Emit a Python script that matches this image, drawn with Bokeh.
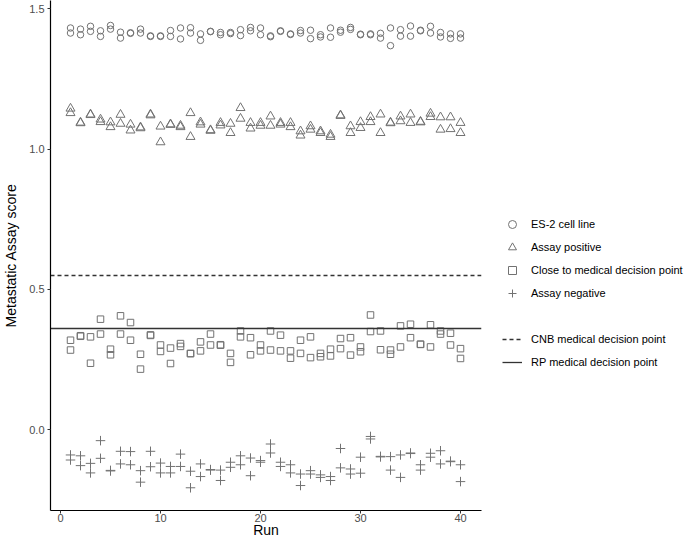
from bokeh.plotting import figure
from bokeh.models import (ColumnDataSource, Legend, LegendItem, Range1d,
                          FixedTicker, PrintfTickFormatter)
from bokeh.embed import file_html
from bokeh.resources import INLINE

# ---------------- data ----------------
runs = list(range(1, 41))

es2_a = [1.432, 1.428, 1.438, 1.422, 1.441, 1.417, 1.415, 1.428, 1.404, 1.404,
         1.423, 1.432, 1.433, 1.411, 1.420, 1.416, 1.416, 1.426, 1.434, 1.432,
         1.404, 1.422, 1.411, 1.423, 1.424, 1.408, 1.432, 1.424, 1.434, 1.410,
         1.411, 1.413, 1.432, 1.426, 1.439, 1.424, 1.438, 1.416, 1.411, 1.411]
es2_b = [1.414, 1.408, 1.420, 1.402, 1.428, 1.396, 1.413, 1.414, 1.402, 1.402,
         1.402, 1.393, 1.414, 1.388, 1.419, 1.408, 1.412, 1.405, 1.422, 1.408,
         1.401, 1.420, 1.409, 1.414, 1.394, 1.400, 1.399, 1.417, 1.427, 1.408,
         1.408, 1.396, 1.369, 1.403, 1.403, 1.422, 1.414, 1.400, 1.395, 1.396]

pos_a = [1.145, 1.095, 1.124, 1.106, 1.096, 1.123, 1.088, 1.078, 1.124, 1.081,
         1.089, 1.084, 1.129, 1.096, 1.068, 1.094, 1.091, 1.147, 1.094, 1.094,
         1.117, 1.094, 1.094, 1.064, 1.082, 1.064, 1.052, 1.121, 1.082, 1.097,
         1.115, 1.124, 1.095, 1.117, 1.124, 1.098, 1.127, 1.114, 1.114, 1.094]
pos_b = [1.129, 1.093, 1.122, 1.097, 1.079, 1.091, 1.067, 1.075, 1.121, 1.025,
         1.087, 1.079, 1.044, 1.088, 1.066, 1.085, 1.058, 1.109, 1.074, 1.084,
         1.084, 1.088, 1.079, 1.049, 1.070, 1.058, 1.044, 1.119, 1.058, 1.076,
         1.097, 1.058, 1.093, 1.100, 1.094, 1.096, 1.115, 1.070, 1.072, 1.058]

close_a = [0.319, 0.335, 0.331, 0.394, 0.287, 0.406, 0.382, 0.269, 0.338, 0.302,
           0.291, 0.307, 0.272, 0.313, 0.341, 0.303, 0.272, 0.352, 0.328, 0.302,
           0.352, 0.337, 0.281, 0.319, 0.331, 0.272, 0.287, 0.325, 0.328, 0.295,
           0.409, 0.352, 0.284, 0.370, 0.376, 0.305, 0.374, 0.352, 0.344, 0.289]
close_b = [0.284, 0.333, 0.237, 0.341, 0.267, 0.341, 0.319, 0.216, 0.336, 0.279,
           0.236, 0.297, 0.271, 0.281, 0.302, 0.301, 0.240, 0.331, 0.267, 0.281,
           0.284, 0.281, 0.255, 0.272, 0.257, 0.260, 0.263, 0.289, 0.266, 0.278,
           0.350, 0.285, 0.269, 0.295, 0.328, 0.304, 0.295, 0.341, 0.302, 0.254]

neg_a = [-0.090, -0.093, -0.120, -0.039, -0.145, -0.077, -0.078, -0.146, -0.077, -0.119,
         -0.131, -0.087, -0.148, -0.122, -0.142, -0.144, -0.116, -0.093, -0.101, -0.110,
         -0.051, -0.116, -0.125, -0.158, -0.146, -0.161, -0.167, -0.067, -0.140, -0.098,
         -0.024, -0.095, -0.096, -0.090, -0.083, -0.125, -0.084, -0.075, -0.112, -0.125]
neg_b = [-0.108, -0.128, -0.154, -0.102, -0.147, -0.122, -0.125, -0.187, -0.132, -0.154,
         -0.154, -0.131, -0.207, -0.167, -0.144, -0.181, -0.134, -0.125, -0.164, -0.116,
         -0.083, -0.131, -0.154, -0.199, -0.158, -0.170, -0.181, -0.136, -0.158, -0.155,
         -0.033, -0.097, -0.144, -0.170, -0.085, -0.144, -0.098, -0.122, -0.114, -0.185]

series_labels = ["ES-2 cell line", "Assay positive",
                 "Close to medical decision point", "Assay negative"]
cnb_point = 0.55
rp_point = 0.36
line_labels = ["CNB medical decision point", "RP medical decision point"]

x_ticks = [0, 10, 20, 30, 40]
y_ticks = [0.0, 0.5, 1.0, 1.5]

# ---------------- figure ----------------
FONT = "Liberation Sans"
MARK = "#727272"

p = figure(frame_width=431, frame_height=510, output_backend="svg",
           toolbar_location=None,
           x_range=Range1d(-1.0, 42.1), y_range=Range1d(-0.288, 1.53),
           min_border_left=47, min_border_right=0, min_border_top=0,
           min_border_bottom=24)

p.grid.visible = False
p.outline_line_color = None

for ax in (p.xaxis[0], p.yaxis[0]):
    ax.axis_line_color = "black"
    ax.axis_line_width = 1.2
    ax.major_tick_line_color = "#333333"
    ax.major_tick_out = 3
    ax.major_tick_in = 0
    ax.minor_tick_line_color = None
    ax.major_label_text_font = FONT
    ax.major_label_text_font_size = "11px"
    ax.major_label_text_color = "#4D4D4D"
    ax.axis_label_text_font = FONT
    ax.axis_label_text_font_size = "14px"
    ax.axis_label_text_font_style = "normal"
    ax.axis_label_text_color = "black"

p.xaxis.ticker = FixedTicker(ticks=x_ticks)
p.yaxis.ticker = FixedTicker(ticks=y_ticks)
p.yaxis.formatter = PrintfTickFormatter(format="%.1f")
p.xaxis.axis_label = "Run"
p.yaxis.axis_label = "Metastatic Assay score"
p.xaxis.major_label_standoff = 0
p.xaxis.axis_label_standoff = -3
p.yaxis.major_label_standoff = 3
p.yaxis.axis_label_standoff = 7

x2 = runs + runs
src_es2 = ColumnDataSource(dict(x=x2, y=es2_a + es2_b))
src_pos = ColumnDataSource(dict(x=x2, y=pos_a + pos_b))
src_close = ColumnDataSource(dict(x=x2, y=close_a + close_b))
src_neg = ColumnDataSource(dict(x=x2, y=neg_a + neg_b))

r_es2 = p.scatter("x", "y", source=src_es2, marker="circle", size=6.5,
                  fill_color=None, line_color=MARK, line_width=1)
r_pos = p.scatter("x", "y", source=src_pos, marker="triangle", size=9,
                  fill_color=None, line_color=MARK, line_width=1)
r_close = p.scatter("x", "y", source=src_close, marker="square", size=6.5,
                    fill_color=None, line_color=MARK, line_width=1)
r_neg = p.scatter("x", "y", source=src_neg, marker="cross", size=9.5,
                  fill_color=None, line_color=MARK, line_width=1)

r_cnb = p.hspan(y=[cnb_point], line_color="#333333", line_width=1.3,
                line_dash="4 3")
r_rp = p.hspan(y=[rp_point], line_color="#333333", line_width=1.3)
r_gap = p.hspan(y=[rp_point], line_alpha=0)

items = [
    LegendItem(label=series_labels[0], renderers=[r_es2]),
    LegendItem(label=series_labels[1], renderers=[r_pos]),
    LegendItem(label=series_labels[2], renderers=[r_close]),
    LegendItem(label=series_labels[3], renderers=[r_neg]),
    LegendItem(label=" ", renderers=[r_gap]),
    LegendItem(label=line_labels[0], renderers=[r_cnb]),
    LegendItem(label=line_labels[1], renderers=[r_rp]),
]
legend = Legend(items=items, location=(21, 138), padding=0, margin=0,
                spacing=3, label_height=20, glyph_height=20, glyph_width=20,
                label_standoff=9, label_text_font=FONT,
                label_text_font_size="11px", label_text_color="black",
                border_line_color=None, background_fill_alpha=0)
p.add_layout(legend, "right")

open("out.html", "w").write(file_html(p, INLINE))
